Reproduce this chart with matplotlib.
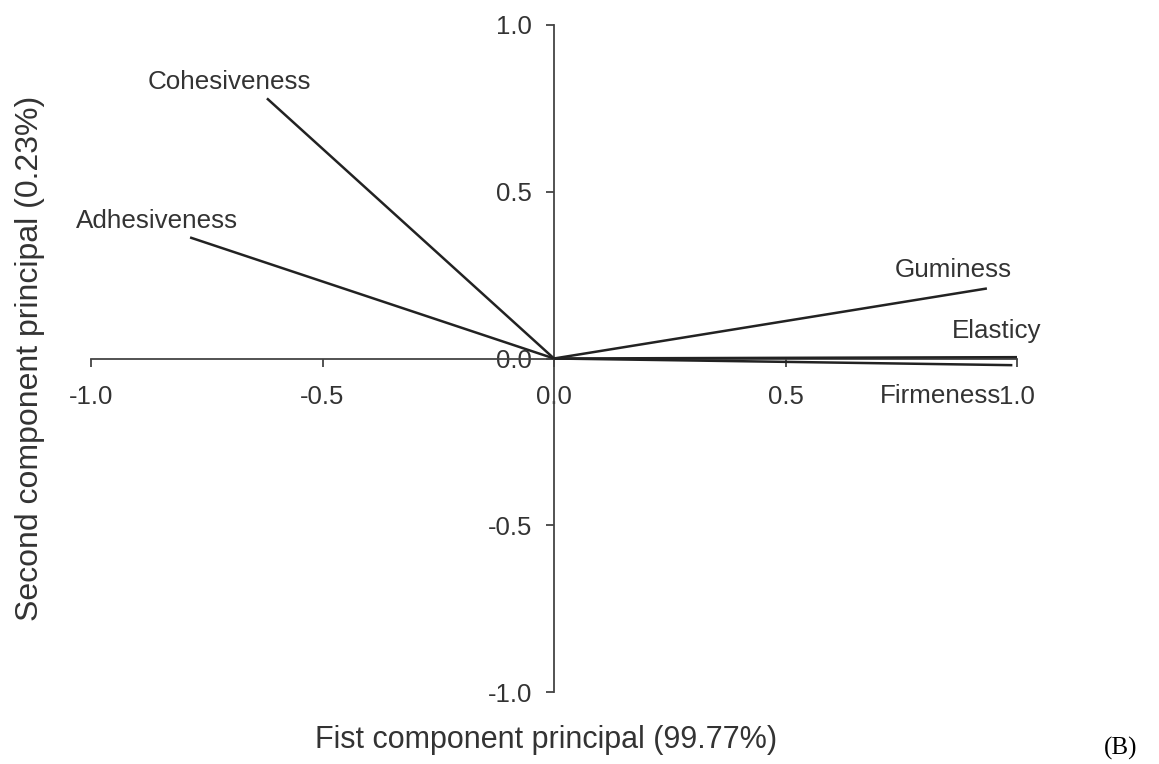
import matplotlib
matplotlib.use("Agg")
import matplotlib.pyplot as plt

plt.rcParams['font.family'] = ['Liberation Sans', 'DejaVu Sans']

# Loadings of each texture attribute on the first two principal components
attributes = ["Cohesiveness", "Adhesiveness", "Guminess", "Elasticy", "Firmeness"]
pc1 = [-0.62, -0.786, 0.935, 1.0, 0.99]
pc2 = [0.78, 0.363, 0.21, 0.004, -0.02]

ticks = [-1.0, -0.5, 0.0, 0.5, 1.0]
tick_labels = ["-1.0", "-0.5", "0.0", "0.5", "1.0"]

# label offsets (points) relative to each vector tip
label_offsets = {
    "Cohesiveness": (-27, 12),
    "Adhesiveness": (-24, 12),
    "Guminess": (-24, 13),
    "Elasticy": (-15, 19),
    "Firmeness": (-52, -22),
}

ink = "#222222"
fig = plt.figure(figsize=(11.59, 7.64), dpi=100)
ax = fig.add_axes([91 / 1159, 1 - 692 / 764, 926 / 1159, 667 / 764])
ax.set_xlim(-1, 1)
ax.set_ylim(-1, 1)

for name, x, y in zip(attributes, pc1, pc2):
    ax.plot([0, x], [0, y], color=ink, lw=1.8, solid_capstyle="butt", zorder=3)
    dx, dy = label_offsets[name]
    ax.annotate(name, (x, y), xytext=(dx, dy), textcoords="offset points",
                ha="center", va="center", fontsize=18.7, color="#333333")

for side in ("top", "right"):
    ax.spines[side].set_visible(False)
ax.spines["left"].set_position(("data", 0))
ax.spines["bottom"].set_position(("data", 0))
for side in ("left", "bottom"):
    ax.spines[side].set_color("#444444")
    ax.spines[side].set_linewidth(1.3)

ax.set_xticks(ticks)
ax.set_xticklabels(tick_labels)
ax.set_yticks(ticks)
ax.set_yticklabels(tick_labels)
ax.tick_params(axis="x", direction="out", length=6, width=1.3, color="#444444",
               labelsize=18.5, labelcolor="#333333", pad=13)
ax.tick_params(axis="y", direction="out", length=6, width=1.3, color="#444444",
               labelsize=18.5, labelcolor="#333333", pad=10)

fig.text(546 / 1159, 1 - 740 / 764, "Fist component principal (99.77%)",
         ha="center", va="center", fontsize=22, color="#333333")
fig.text(30 / 1159, 1 - 358 / 764, "Second component principal (0.23%)",
         ha="center", va="center", rotation=90, fontsize=23, color="#333333")
fig.text(1121 / 1159, 1 - 748 / 764, "(B)", ha="center", va="center",
         fontsize=18, family="Liberation Serif", color="black")

fig.savefig("out.png", dpi=100, facecolor="white")
